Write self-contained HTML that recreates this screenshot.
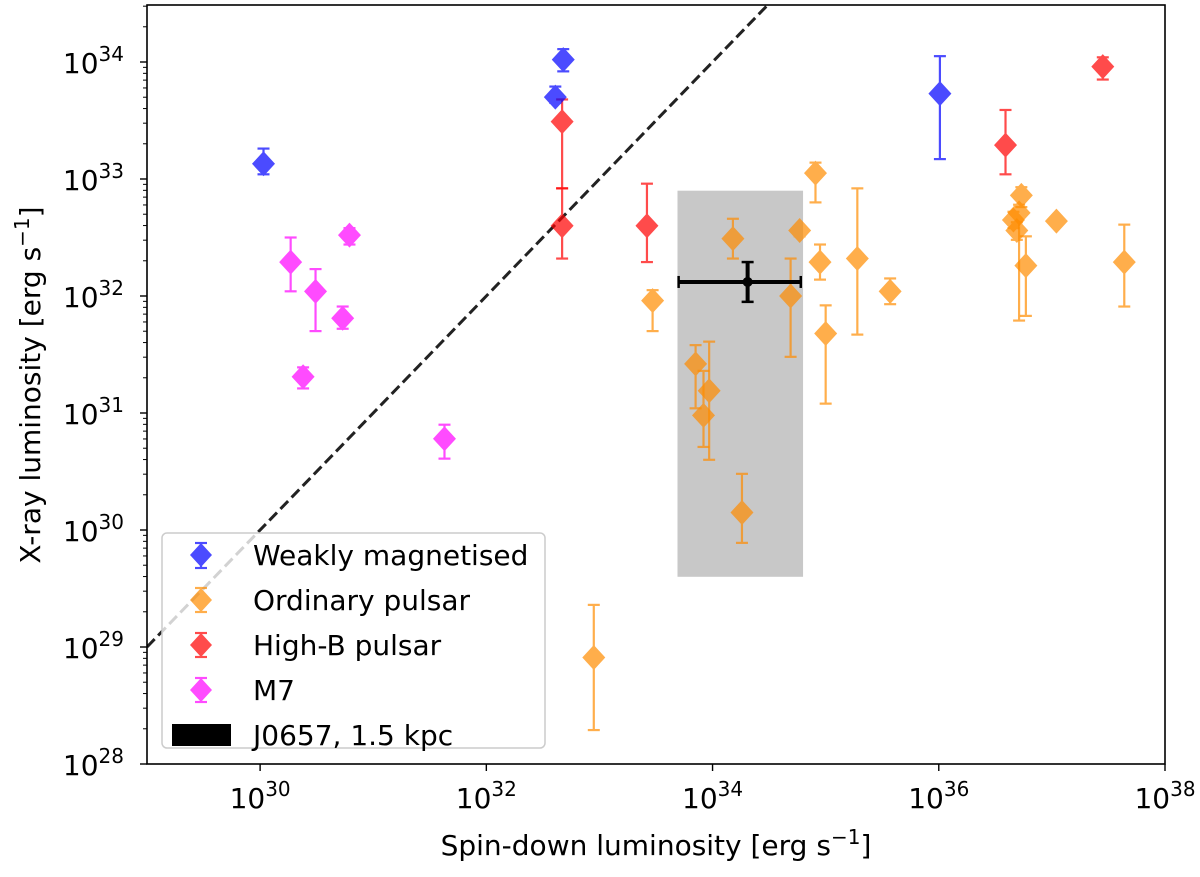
<!DOCTYPE html>
<html><head><meta charset="utf-8"><style>
body{margin:0;background:#fff}
svg text{font-family:"DejaVu Sans","Liberation Sans",sans-serif}
</style></head><body>
<svg id="chart" width="1200" height="872" xmlns="http://www.w3.org/2000/svg">
<g id="plot"></g>
</svg>
<script>
// log10 values
const blueX=[30.03,32.61,32.68,36.01];
const blueY=[33.13,33.70,34.02,33.73];
const blueHi=[33.26,33.79,34.11,34.05];
const blueLo=[33.04,33.65,33.92,33.17];
const redX=[32.67,32.67,33.42,36.59,37.45];
const redY=[33.49,32.60,32.60,33.29,33.96];
const redHi=[33.68,32.92,32.96,33.59,34.04];
const redLo=[32.92,32.32,32.29,33.04,33.85];
const magX=[30.27,30.49,30.79,30.73,30.38,31.63];
const magY=[32.29,32.04,32.52,31.81,31.31,30.78];
const magHi=[32.50,32.23,32.58,31.91,31.39,30.90];
const magLo=[32.04,31.70,32.44,31.72,31.21,30.61];
const oraX=[32.95,33.47,33.85,33.92,33.97,34.26,34.18,34.69,34.77,34.91,34.95,35.00,35.28,35.57,36.66,36.69,36.73,36.71,36.77,37.04,37.64];
const oraY=[28.91,31.96,31.42,30.98,31.19,30.15,32.49,32.00,32.56,33.05,32.29,31.68,32.32,32.04,32.65,32.56,32.86,32.71,32.26,32.64,32.29];
const oraHi=[29.36,32.05,31.58,31.36,31.61,30.48,32.66,32.32,32.59,33.14,32.44,31.92,32.92,32.15,32.72,32.63,32.93,32.78,32.51,32.68,32.61];
const oraLo=[28.29,31.70,31.04,30.71,30.60,29.89,32.32,31.48,32.51,32.80,32.14,31.08,31.67,31.93,32.58,32.48,32.76,31.79,31.83,32.60,31.91];
const jX=34.31, jXlo=33.70, jXhi=34.78, jY=32.12, jYlo=31.95, jYhi=32.29;
const boxX=[33.69,34.80], boxY=[29.60,32.90];
const xTicks=[30,32,34,36,38];
const yTicks=[28,29,30,31,32,33,34];

const L=147,R=1165,T=5,B=764, XMIN=29,XMAX=38, YMIN=28, YMAX=28+(B-T)/117;
const sx=v=>L+(v-XMIN)*(R-L)/(XMAX-XMIN);
const sy=v=>B-(v-YMIN)*117;
const NS="http://www.w3.org/2000/svg";
const svg=document.getElementById('chart');
const plot=document.getElementById('plot');
function mk(tag,attrs,parent){const e=document.createElementNS(NS,tag);for(const k in attrs)e.setAttribute(k,attrs[k]);(parent||svg).appendChild(e);return e;}

const defs=mk('defs',{});
const cp=mk('clipPath',{id:'clip'},defs);mk('rect',{x:L,y:T,width:R-L,height:B-T},cp);
plot.setAttribute('clip-path','url(#clip)');

const box=mk('rect',{x:sx(boxX[0]),y:sy(boxY[1]),width:sx(boxX[1])-sx(boxX[0]),height:sy(boxY[0])-sy(boxY[1]),fill:'#c8c8c8'},plot);



const dl=mk('line',{x1:sx(XMIN),y1:sy(XMIN),x2:sx(YMAX),y2:sy(YMAX),stroke:'#222',"stroke-width":3,"stroke-dasharray":'11,5'},plot);



function series(xs,ys,hi,lo,col,name){
  const g=mk('g',{},plot);
  
  
  for(let i=0;i<xs.length;i++){
    const x=sx(xs[i]),y=sy(ys[i]),yh=sy(hi[i]),yl=sy(lo[i]);
    const p=mk('g',{opacity:0.7},g);
    
    
    mk('line',{x1:x,y1:yh,x2:x,y2:yl,stroke:col,"stroke-width":2.2},p);
    mk('line',{x1:x-6,y1:yh,x2:x+6,y2:yh,stroke:col,"stroke-width":2.2},p);
    mk('line',{x1:x-6,y1:yl,x2:x+6,y2:yl,stroke:col,"stroke-width":2.2},p);
    mk('polygon',{points:`${x},${y-12.5} ${x+11.5},${y} ${x},${y+12.5} ${x-11.5},${y}`,fill:col},p);
  }
}
series(magX,magY,magHi,magLo,'#ff00ff','m7');
series(oraX,oraY,oraHi,oraLo,'#ff8c00','ordinary-pulsar');
series(redX,redY,redHi,redLo,'#ff0000','high-b-pulsar');
series(blueX,blueY,blueHi,blueLo,'#0000ff','weakly-magnetised');

const jg=mk('g',{},plot);


{const x=sx(jX),y=sy(jY);
mk('line',{x1:sx(jXlo),y1:y,x2:sx(jXhi),y2:y,stroke:'#000',"stroke-width":4},jg);
mk('line',{x1:sx(jXlo),y1:y-6,x2:sx(jXlo),y2:y+6,stroke:'#000',"stroke-width":2.5},jg);
mk('line',{x1:sx(jXhi),y1:y-6,x2:sx(jXhi),y2:y+6,stroke:'#000',"stroke-width":2.5},jg);
mk('line',{x1:x,y1:sy(jYhi),x2:x,y2:sy(jYlo),stroke:'#000',"stroke-width":4},jg);
mk('line',{x1:x-6,y1:sy(jYhi),x2:x+6,y2:sy(jYhi),stroke:'#000',"stroke-width":2.5},jg);
mk('line',{x1:x-6,y1:sy(jYlo),x2:x+6,y2:sy(jYlo),stroke:'#000',"stroke-width":2.5},jg);
mk('circle',{cx:x,cy:y,r:5,fill:'#000'},jg);}

const fr=mk('rect',{x:L,y:T,width:R-L,height:B-T,fill:'none',stroke:'#000',"stroke-width":1.6});



xTicks.forEach(t=>{const x=sx(t);
  mk('line',{x1:x,y1:B,x2:x,y2:B+7,stroke:'#000',"stroke-width":1.4});
  const tx=mk('text',{x:x,y:808,"font-size":28,"text-anchor":'middle'});
  
  
  tx.innerHTML='10<tspan dy="-12" font-size="20">'+t+'</tspan>';
});
yTicks.forEach(t=>{const y=sy(t);
  mk('line',{x1:L-7,y1:y,x2:L,y2:y,stroke:'#000',"stroke-width":1.4});
  const tx=mk('text',{x:124,y:y+11,"font-size":28,"text-anchor":'end'});
  
  
  tx.innerHTML='10<tspan dy="-12" font-size="20">'+t+'</tspan>';
  for(let m=2;m<10;m++){const ym=sy(t+Math.log10(m)); if(ym>=T) mk('line',{x1:L-4,y1:ym,x2:L,y2:ym,stroke:'#000',"stroke-width":1});}
});
</script>
<svg width="1200" height="872" style="position:absolute;left:0;top:0" xmlns="http://www.w3.org/2000/svg">
<text x="656" y="855" font-size="28" text-anchor="middle">Spin-down luminosity [erg s<tspan dy="-11" font-size="20">−1</tspan><tspan dy="11">]</tspan></text>
<text transform="translate(40,385) rotate(-90)" font-size="28" text-anchor="middle">X-ray luminosity [erg s<tspan dy="-11" font-size="20">−1</tspan><tspan dy="11">]</tspan></text>
<g font-size="28">
<rect x="162" y="533" width="383" height="215" rx="5" fill="#fff" fill-opacity="0.8" stroke="#ccc" stroke-width="1.5"/>
<g opacity="0.7"><line x1="201" y1="543" x2="201" y2="568" stroke="#00f" stroke-width="2.2"/><line x1="195" y1="543" x2="207" y2="543" stroke="#00f" stroke-width="2.2"/><line x1="195" y1="568" x2="207" y2="568" stroke="#00f" stroke-width="2.2"/><polygon points="201,543 212,555 201,567 190,555" fill="#00f"/></g>
<text x="253" y="565">Weakly magnetised</text>
<g opacity="0.7"><line x1="201" y1="588" x2="201" y2="612" stroke="#ff8c00" stroke-width="2.2"/><line x1="195" y1="588" x2="207" y2="588" stroke="#ff8c00" stroke-width="2.2"/><line x1="195" y1="612" x2="207" y2="612" stroke="#ff8c00" stroke-width="2.2"/><polygon points="201,588 212,600 201,612 190,600" fill="#ff8c00"/></g>
<text x="253" y="610">Ordinary pulsar</text>
<g opacity="0.7"><line x1="201" y1="633" x2="201" y2="657" stroke="#f00" stroke-width="2.2"/><line x1="195" y1="633" x2="207" y2="633" stroke="#f00" stroke-width="2.2"/><line x1="195" y1="657" x2="207" y2="657" stroke="#f00" stroke-width="2.2"/><polygon points="201,633 212,645 201,657 190,645" fill="#f00"/></g>
<text x="253" y="655">High-B pulsar</text>
<g opacity="0.7"><line x1="201" y1="678" x2="201" y2="702" stroke="#f0f" stroke-width="2.2"/><line x1="195" y1="678" x2="207" y2="678" stroke="#f0f" stroke-width="2.2"/><line x1="195" y1="702" x2="207" y2="702" stroke="#f0f" stroke-width="2.2"/><polygon points="201,678 212,690 201,702 190,690" fill="#f0f"/></g>
<text x="253" y="700">M7</text>
<rect x="172" y="724" width="59" height="22" fill="#000"/>
<text x="253" y="745">J0657, 1.5 kpc</text>
</g>
</svg>
</body></html>
